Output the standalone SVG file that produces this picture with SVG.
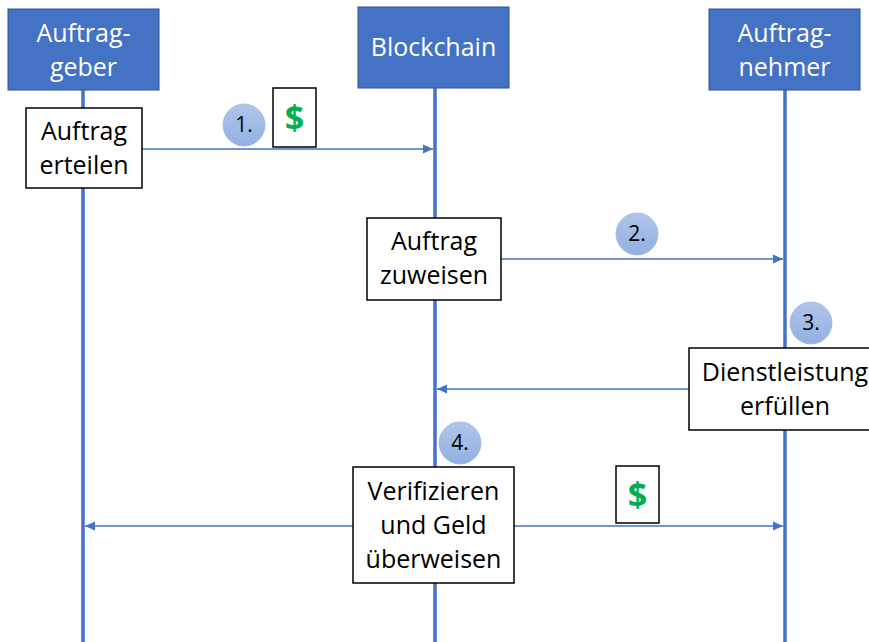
<svg xmlns="http://www.w3.org/2000/svg" width="869" height="642" viewBox="0 0 869 642">
<style>
.hdr{fill:#4472C4;stroke:#2F528F;stroke-width:1}
.hdrt{font-family:"Open Sans","Liberation Sans",sans-serif;font-size:25px;fill:#ffffff;text-anchor:middle}
.life{stroke:#4472C4;stroke-width:3.5;fill:none}
.box{fill:#ffffff;stroke:#000000;stroke-width:1.5}
.boxt{font-family:"Open Sans","Liberation Sans",sans-serif;font-size:25px;fill:#000000;text-anchor:middle}
.msg{stroke:#4472C4;stroke-width:1.3;fill:none}
.badge{fill:url(#bg);stroke:#9CB6E0;stroke-width:0.8}
.badget{font-family:"Open Sans","Liberation Sans",sans-serif;font-size:21px;fill:#000000;text-anchor:middle}
.dol{font-family:"Open Sans","Liberation Sans",sans-serif;font-size:34px;font-weight:bold;fill:#00B050;text-anchor:middle}
</style>
<defs>
<linearGradient id="bg" x1="0" y1="0" x2="0" y2="1">
<stop offset="0" stop-color="#AFC6EB"/>
<stop offset="1" stop-color="#93B0E0"/>
</linearGradient>
<marker id="ah" markerUnits="userSpaceOnUse" markerWidth="10" markerHeight="10" viewBox="0 0 10 10" refX="10" refY="5" orient="auto">
<path d="M0,0.5 L10,5 L0,9.5 Z" fill="#4472C4"/>
</marker>
</defs>
<rect width="869" height="642" fill="#ffffff"/>

<g id="lifelines">
<line class="life" x1="83" y1="90" x2="83" y2="642"/>
<line class="life" x1="435" y1="88" x2="435" y2="642"/>
<line class="life" x1="785" y1="90" x2="785" y2="642"/>
</g>

<g id="connectors">
<line class="msg" x1="142" y1="149" x2="433" y2="149" marker-end="url(#ah)"/>
<line class="msg" x1="501" y1="259" x2="783" y2="259" marker-end="url(#ah)"/>
<line class="msg" x1="689" y1="389" x2="437" y2="389" marker-end="url(#ah)"/>
<line class="msg" x1="353" y1="526" x2="85" y2="526" marker-end="url(#ah)"/>
<line class="msg" x1="514" y1="526" x2="783" y2="526" marker-end="url(#ah)"/>
</g>

<g id="auftraggeber">
<rect class="hdr" x="8" y="9" width="151" height="81"/>
<text class="hdrt" x="83.5" y="42">Auftrag-</text>
<text class="hdrt" x="83.5" y="76">geber</text>
</g>
<g id="blockchain">
<rect class="hdr" x="358" y="7" width="151" height="81"/>
<text class="hdrt" x="433.5" y="56">Blockchain</text>
</g>
<g id="auftragnehmer">
<rect class="hdr" x="709" y="9" width="151" height="81"/>
<text class="hdrt" x="784.5" y="42">Auftrag-</text>
<text class="hdrt" x="784.5" y="76">nehmer</text>
</g>

<g id="auftrag-erteilen">
<rect class="box" x="26" y="108" width="116" height="80"/>
<text class="boxt" x="84" y="140">Auftrag</text>
<text class="boxt" x="84" y="174">erteilen</text>
</g>
<g id="badge1">
<circle class="badge" cx="244" cy="125" r="21"/>
<text class="badget" x="244" y="132">1.</text>
</g>
<g id="dollar1">
<rect class="box" x="273" y="88" width="43" height="59"/>
<text class="dol" x="294.5" y="130">$</text>
</g>

<g id="auftrag-zuweisen">
<rect class="box" x="367" y="218" width="134" height="82"/>
<text class="boxt" x="434" y="250">Auftrag</text>
<text class="boxt" x="434" y="284">zuweisen</text>
</g>
<g id="badge2">
<circle class="badge" cx="637" cy="234" r="21"/>
<text class="badget" x="637" y="241">2.</text>
</g>

<g id="badge3">
<circle class="badge" cx="811" cy="323" r="21"/>
<text class="badget" x="811" y="330">3.</text>
</g>
<g id="dienstleistung-erfuellen">
<rect class="box" x="689" y="348" width="192" height="82"/>
<text class="boxt" x="785" y="381">Dienstleistung</text>
<text class="boxt" x="785" y="415">erfüllen</text>
</g>

<g id="badge4">
<circle class="badge" cx="460" cy="443" r="21"/>
<text class="badget" x="460" y="450">4.</text>
</g>
<g id="verifizieren">
<rect class="box" x="353" y="467" width="161" height="116"/>
<text class="boxt" x="433.5" y="500">Verifizieren</text>
<text class="boxt" x="433.5" y="534">und Geld</text>
<text class="boxt" x="433.5" y="568">überweisen</text>
</g>
<g id="dollar2">
<rect class="box" x="616" y="466" width="43" height="57"/>
<text class="dol" x="637.5" y="507">$</text>
</g>
</svg>
